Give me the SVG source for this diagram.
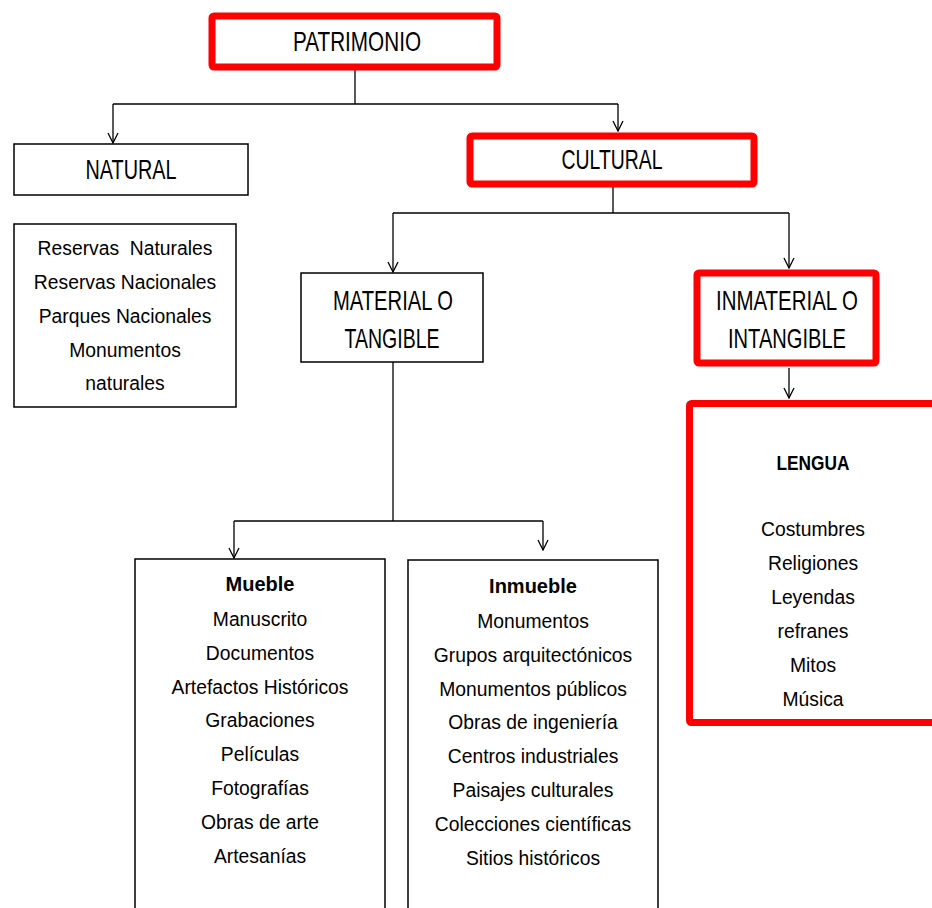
<svg xmlns="http://www.w3.org/2000/svg" width="932" height="908" viewBox="0 0 932 908">
  <style>
    .box { fill: #ffffff; stroke: #000000; stroke-width: 1.5; }
    .red { fill: #ffffff; stroke: #ff0000; stroke-width: 7; }
    .conn { fill: none; stroke: #000000; stroke-width: 1.3; }
    text { font-family: "Liberation Sans", Arial, sans-serif; fill: #000000; text-anchor: middle; }
    .head { font-size: 28px; }
    .item { font-size: 21px; white-space: pre; }
    .bold { font-size: 20px; font-weight: bold; }
  </style>
  <defs>
    <marker id="arrow" viewBox="0 0 12 12" refX="11" refY="6" markerWidth="12" markerHeight="12" markerUnits="userSpaceOnUse" orient="auto">
      <path d="M1,1 L11,6 L1,11" fill="none" stroke="#000000" stroke-width="1.3"/>
    </marker>
  </defs>
  <rect width="932" height="908" fill="#ffffff"/>

  <g id="connectors">
    <path class="conn" d="M355,70 V104"/>
    <path class="conn" d="M113,104 H618"/>
    <path class="conn" d="M113,104 V143" marker-end="url(#arrow)"/>
    <path class="conn" d="M618,104 V131" marker-end="url(#arrow)"/>
    <path class="conn" d="M613,187 V213"/>
    <path class="conn" d="M393,213 H789"/>
    <path class="conn" d="M393,213 V272" marker-end="url(#arrow)"/>
    <path class="conn" d="M789,213 V268" marker-end="url(#arrow)"/>
    <path class="conn" d="M789,368 V398" marker-end="url(#arrow)"/>
    <path class="conn" d="M393,362 V521"/>
    <path class="conn" d="M234,521 H543"/>
    <path class="conn" d="M234,521 V558" marker-end="url(#arrow)"/>
    <path class="conn" d="M543,521 V550" marker-end="url(#arrow)"/>
  </g>

  <g id="patrimonio">
    <rect class="red" x="212" y="16" width="285" height="51" rx="2"/>
    <text class="head" x="357" y="51" textLength="128" lengthAdjust="spacingAndGlyphs">PATRIMONIO</text>
  </g>

  <g id="natural">
    <rect class="box" x="14" y="144" width="234" height="51"/>
    <text class="head" x="131" y="179" textLength="91" lengthAdjust="spacingAndGlyphs">NATURAL</text>
  </g>

  <g id="natural-list">
    <rect class="box" x="14" y="224" width="222" height="183"/>
    <g transform="translate(125 0) scale(0.92 1)">
      <text class="item" x="0" y="255">Reservas  Naturales</text>
      <text class="item" x="0" y="289">Reservas Nacionales</text>
      <text class="item" x="0" y="323">Parques Nacionales</text>
      <text class="item" x="0" y="357">Monumentos</text>
      <text class="item" x="0" y="390">naturales</text>
    </g>
  </g>

  <g id="cultural">
    <rect class="red" x="470" y="136" width="284" height="48" rx="2"/>
    <text class="head" x="612" y="169" textLength="101" lengthAdjust="spacingAndGlyphs">CULTURAL</text>
  </g>

  <g id="material">
    <rect class="box" x="301" y="273" width="182" height="89"/>
    <text class="head" x="393" y="310" textLength="120" lengthAdjust="spacingAndGlyphs">MATERIAL O</text>
    <text class="head" x="392" y="348" textLength="95" lengthAdjust="spacingAndGlyphs">TANGIBLE</text>
  </g>

  <g id="inmaterial">
    <rect class="red" x="697" y="273" width="179" height="90" rx="2"/>
    <text class="head" x="787" y="310" textLength="142" lengthAdjust="spacingAndGlyphs">INMATERIAL O</text>
    <text class="head" x="787" y="348" textLength="118" lengthAdjust="spacingAndGlyphs">INTANGIBLE</text>
  </g>

  <g id="lengua">
    <rect class="red" x="689.5" y="403.5" width="260" height="319" rx="2"/>
    <text class="bold" x="813" y="470" font-size="21" textLength="73" lengthAdjust="spacingAndGlyphs">LENGUA</text>
    <g transform="translate(813 0) scale(0.92 1)">
      <text class="item" x="0" y="536">Costumbres</text>
      <text class="item" x="0" y="570">Religiones</text>
      <text class="item" x="0" y="604">Leyendas</text>
      <text class="item" x="0" y="638">refranes</text>
      <text class="item" x="0" y="672">Mitos</text>
      <text class="item" x="0" y="706">Música</text>
    </g>
  </g>

  <g id="mueble">
    <rect class="box" x="135" y="559" width="250" height="360"/>
    <text class="bold" x="260" y="591">Mueble</text>
    <g transform="translate(260 0) scale(0.92 1)">
      <text class="item" x="0" y="626">Manuscrito</text>
      <text class="item" x="0" y="660">Documentos</text>
      <text class="item" x="0" y="694">Artefactos Históricos</text>
      <text class="item" x="0" y="727">Grabaciones</text>
      <text class="item" x="0" y="761">Películas</text>
      <text class="item" x="0" y="795">Fotografías</text>
      <text class="item" x="0" y="829">Obras de arte</text>
      <text class="item" x="0" y="863">Artesanías</text>
    </g>
  </g>

  <g id="inmueble">
    <rect class="box" x="408" y="560" width="250" height="360"/>
    <text class="bold" x="533" y="593">Inmueble</text>
    <g transform="translate(533 0) scale(0.92 1)">
      <text class="item" x="0" y="628">Monumentos</text>
      <text class="item" x="0" y="662">Grupos arquitectónicos</text>
      <text class="item" x="0" y="696">Monumentos públicos</text>
      <text class="item" x="0" y="729">Obras de ingeniería</text>
      <text class="item" x="0" y="763">Centros industriales</text>
      <text class="item" x="0" y="797">Paisajes culturales</text>
      <text class="item" x="0" y="831">Colecciones científicas</text>
      <text class="item" x="0" y="865">Sitios históricos</text>
    </g>
  </g>
</svg>
